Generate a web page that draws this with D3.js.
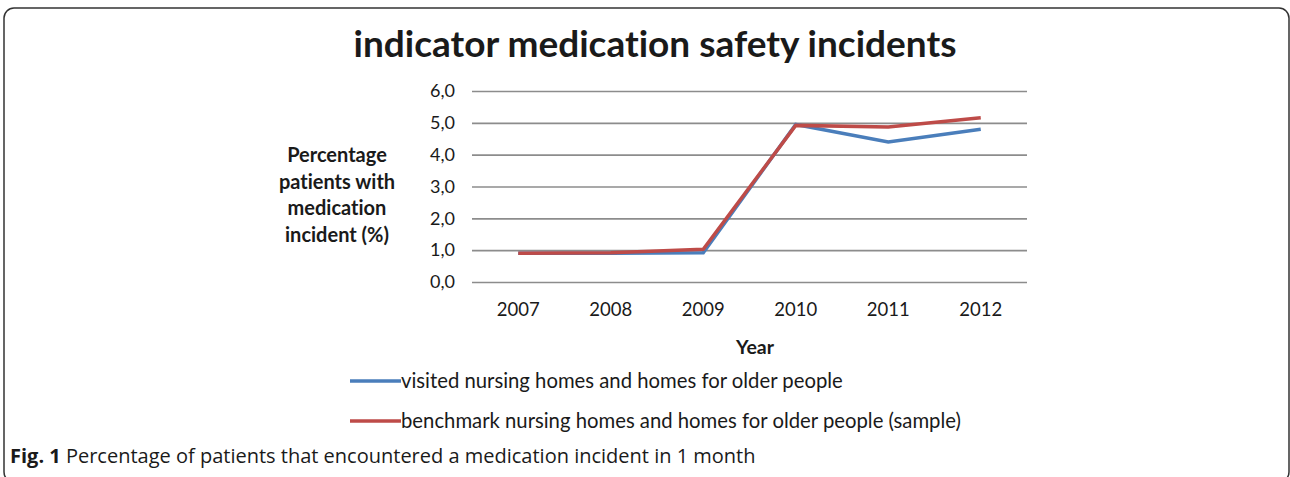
<!DOCTYPE html>
<html>
<head>
<meta charset="utf-8">
<script src="https://cdn.jsdelivr.net/npm/d3@7"></script>
<style>
  body { margin: 0; background: #fff; }
  text { font-family: Lato, "Open Sans", sans-serif; fill: #1a1a1a; font-variant-ligatures: none; }
</style>
</head>
<body>
<script>
// chart data
const years = ["2007", "2008", "2009", "2010", "2011", "2012"];
const visited = [0.9, 0.9, 0.92, 4.95, 4.4, 4.8];
const benchmark = [0.9, 0.92, 1.03, 4.92, 4.87, 5.16];
const yTicks = [0, 1, 2, 3, 4, 5, 6];
const seriesNames = [
  "visited nursing homes and homes for older people",
  "benchmark nursing homes and homes for older people (sample)"
];
const seriesColors = ["#4a7ebb", "#be4b48"];
const yTitle = ["Percentage", "patients with", "medication", "incident (%)"];

const W = 1290, H = 477;
const plot = {left: 472, right: 1027, top: 91, bottom: 282};

const svg = d3.select("body").append("svg")
  .attr("width", W)
  .attr("height", H);

// outer frame (bottom and right run off the picture)
svg.append("rect")
  .attr("x", 4).attr("y", 8)
  .attr("width", 1285).attr("height", 474)
  .attr("rx", 10)
  .attr("fill", "none")
  .attr("stroke", "#333")
  .attr("stroke-width", 1.5);

// title
svg.append("text")
  .attr("x", 655).attr("y", 57)
  .attr("text-anchor", "middle")
  .style("font-size", "37px")
  .style("font-weight", "bold")
  .text("indicator medication safety incidents");

const x = d3.scaleBand()
  .domain(years)
  .range([plot.left, plot.right]);

const y = d3.scaleLinear()
  .domain([0, 6])
  .range([plot.bottom, plot.top]);

// y gridlines + labels
const yAxis = svg.append("g")
  .attr("transform", "translate(" + plot.left + ",0)")
  .call(d3.axisLeft(y)
    .tickValues(yTicks)
    .tickSize(-(plot.right - plot.left))
    .tickPadding(17)
    .tickFormat(d => d3.format(".1f")(d).replace(".", ",")));
yAxis.select(".domain").remove();
yAxis.selectAll("line").attr("stroke", "#8c8c8c").attr("stroke-width", 1.6);
yAxis.selectAll("text").style("font-size", "18px").attr("fill", "#1a1a1a");

// x labels
const xAxis = svg.append("g")
  .attr("transform", "translate(0," + plot.bottom + ")")
  .call(d3.axisBottom(x).tickSize(0).tickPadding(21));
xAxis.select(".domain").remove();
xAxis.selectAll("text").style("font-size", "18.5px").attr("fill", "#1a1a1a");

// axis titles
svg.append("text")
  .attr("x", 755).attr("y", 354)
  .attr("text-anchor", "middle")
  .style("font-size", "19.5px")
  .style("font-weight", "bold")
  .text("Year");

svg.append("g").selectAll("text")
  .data(yTitle)
  .join("text")
  .attr("x", 337)
  .attr("y", (d, i) => 162 + i * 26.5)
  .attr("text-anchor", "middle")
  .style("font-size", "20px")
  .style("font-weight", "bold")
  .text(d => d);

// lines
const line = d3.line()
  .x((d, i) => x(years[i]) + x.bandwidth() / 2)
  .y(d => y(d));

[visited, benchmark].forEach(function(s, i) {
  svg.append("path")
    .datum(s)
    .attr("fill", "none")
    .attr("stroke", seriesColors[i])
    .attr("stroke-width", 3.5)
    .attr("d", line);
});

// legend
const legend = svg.append("g").selectAll("g")
  .data(seriesNames)
  .join("g")
  .attr("transform", (d, i) => "translate(350," + (381 + i * 40) + ")");
legend.append("line")
  .attr("x1", 0).attr("x2", 51)
  .attr("stroke", (d, i) => seriesColors[i])
  .attr("stroke-width", 3.5);
legend.append("text")
  .attr("x", 51).attr("y", 7)
  .style("font-size", "20.3px")
  .text(d => d);

// caption
const cap = svg.append("text")
  .attr("x", 10).attr("y", 463)
  .style("font-size", "20px")
  .style("font-family", "'Open Sans', sans-serif");
cap.append("tspan").style("font-weight", "bold").text("Fig. 1");
cap.append("tspan").text(" Percentage of patients that encountered a medication incident in 1 month");
</script>
</body>
</html>
